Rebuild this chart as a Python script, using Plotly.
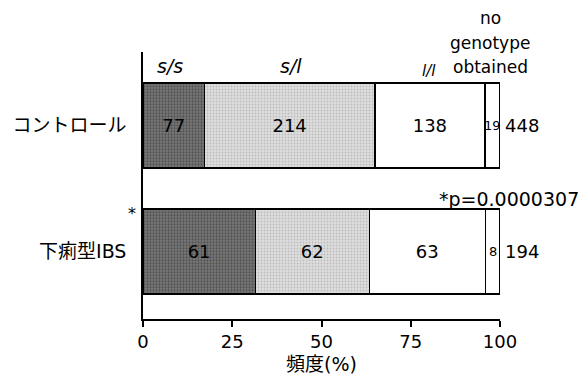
import plotly.graph_objects as go

groups = ["下痢型IBS", "コントロール"]
genotypes = ["s/s", "s/l", "l/l", "no genotype obtained"]
counts_control = [77, 214, 138, 19]
counts_ibs = [61, 62, 63, 8]
totals = [194, 448]
p_label = "*p=0.0000307"
x_ticks = [0, 25, 50, 75, 100]

FONT = "DejaVu Sans, Noto Sans CJK JP, sans-serif"

fills = [
    dict(color="#707070", pattern=dict(shape=".", fgcolor="#2a2a2a", bgcolor="#7a7a7a", size=3, solidity=0.45)),
    dict(color="#d4d4d4", pattern=dict(shape=".", fgcolor="#9a9a9a", bgcolor="#dedede", size=3, solidity=0.3)),
    dict(color="#ffffff"),
    dict(color="#ffffff"),
]

fig = go.Figure()
ann = []
for i, g in enumerate(genotypes):
    c_ibs = counts_ibs[i]
    c_ctl = counts_control[i]
    xs = [100 * c_ibs / totals[0], 100 * c_ctl / totals[1]]
    f = fills[i]
    marker = dict(color=f["color"], line=dict(color="black", width=1.5))
    if "pattern" in f:
        marker["pattern"] = f["pattern"]
    small = (i == len(genotypes) - 1)
    fig.add_trace(go.Bar(
        y=groups, x=xs, orientation="h", name=g,
        text=[str(c_ibs), str(c_ctl)], textposition="none" if small else "inside",
        insidetextanchor="middle", textangle=0,
        textfont=dict(size=18, color="black", family=FONT),
        marker=marker, width=0.675, showlegend=False, hoverinfo="skip",
    ))
    if small:
        for grp, cnt, tot in zip(groups, [c_ibs, c_ctl], totals):
            centre = 100 - 50 * cnt / tot
            ann.append(dict(text=str(cnt), x=centre, y=grp, xref="x", yref="y",
                            xanchor="center", yanchor="middle",
                            showarrow=False, font=dict(size=13)))

fig.update_layout(
    barmode="stack",
    width=580, height=367,
    margin=dict(l=135, r=88, t=44, b=56),
    paper_bgcolor="white", plot_bgcolor="white",
    font=dict(family=FONT, size=18, color="black"),
    xaxis=dict(range=[0, 100], tickvals=x_ticks, ticks="outside", ticklen=6,
               tickwidth=1.5, tickcolor="black", showline=True, linecolor="black",
               linewidth=1.5, showgrid=False, zeroline=False, automargin=False,
               tickfont=dict(size=18),
               title=dict(text="頻度(%)", font=dict(size=19), standoff=8)),
    yaxis=dict(type="category", categoryarray=groups, range=[-0.536, 1.583],
               showline=True, linecolor="black", linewidth=1.5, showgrid=False,
               automargin=False,
               ticks="", tickfont=dict(size=19), ticklabelstandoff=11),
)

def hdr(text, x, y, size):
    return dict(text=text, x=x, y=y, xref="x", yref="paper", xanchor="center",
                yanchor="middle", showarrow=False, font=dict(size=size))

# header labels
ann.append(hdr("<i>s/s</i>", 7.6, 0.948, 19))
ann.append(hdr("<i>s/l</i>", 41.5, 0.948, 19))
ann.append(hdr("<i>l/l</i>", 80.1, 0.929, 15))
for txt, yy in zip(["no", "genotype", "obtained"], [1.127, 1.034, 0.944]):
    ann.append(hdr(txt, 97.2, yy, 17))
# totals
for g, t in zip(groups, totals):
    ann.append(dict(text=str(t), x=100, y=g, xref="x", yref="y", xanchor="left", yanchor="middle",
                    xshift=3, showarrow=False, font=dict(size=18)))
# p value
ann.append(dict(text=p_label, x=1.226, y=0.449, xref="paper", yref="paper", xanchor="right",
                yanchor="middle", showarrow=False, font=dict(size=19)))
ann.append(dict(text="*", x=0, y=0.30, xref="paper", yref="y", xanchor="right", yanchor="middle",
                xshift=-5, showarrow=False, font=dict(size=16)))
fig.update_layout(annotations=ann)

fig.write_html("out.html")
